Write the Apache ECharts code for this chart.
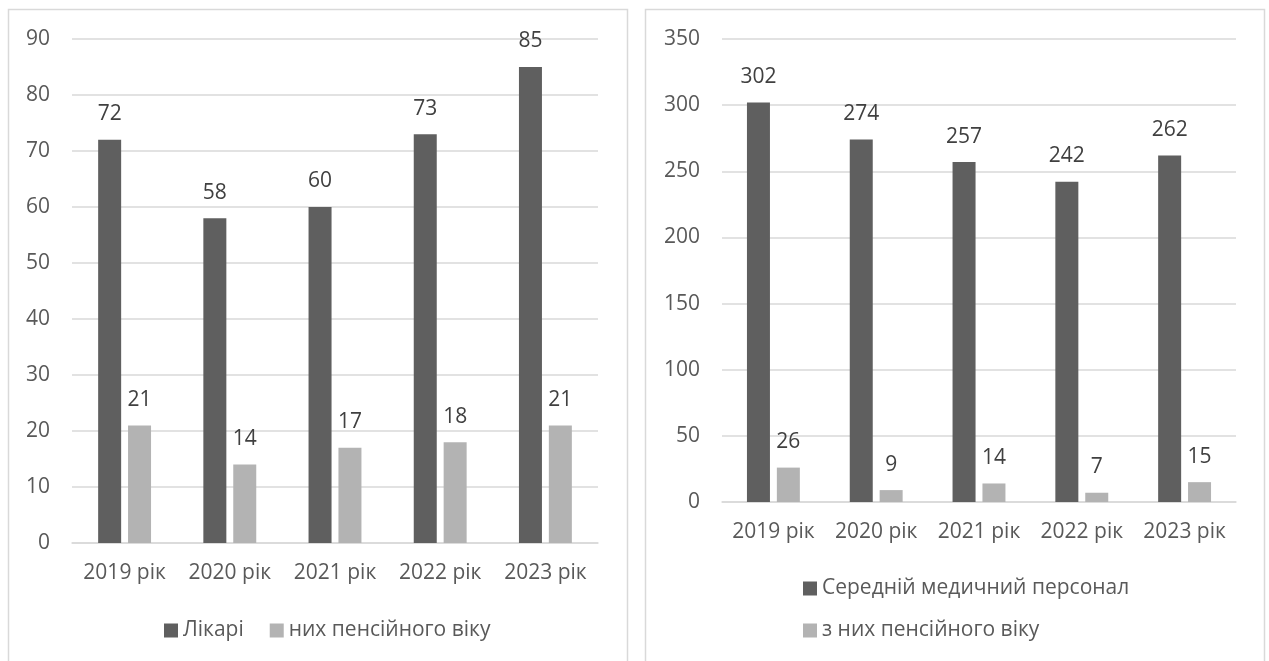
<!DOCTYPE html>
<html>
<head>
<meta charset="utf-8">
<script src="https://cdn.jsdelivr.net/npm/echarts@6/dist/echarts.min.js"></script>
<style>
  html, body { margin: 0; padding: 0; background: #ffffff; }
  #chart { width: 1269px; height: 661px; }
</style>
</head>
<body>
<div id="chart"></div>
<script>
// Categories shared by both panels
const years = ['2019 рік', '2020 рік', '2021 рік', '2022 рік', '2023 рік'];

// Left panel: doctors
const doctorsName = 'Лікарі';
const doctors = [72, 58, 60, 73, 85];
const doctorsRetiredName = 'них пенсійного віку';
const doctorsRetired = [21, 14, 17, 18, 21];

// Right panel: nursing staff
const nursesName = 'Середній медичний персонал';
const nurses = [302, 274, 257, 242, 262];
const nursesRetiredName = 'з них пенсійного віку';
const nursesRetired = [26, 9, 14, 7, 15];

// Axis ranges and steps
const leftAxis = { min: 0, max: 90, interval: 10 };
const rightAxis = { min: 0, max: 350, interval: 50 };

const FONT = '"Open Sans", "Noto Sans", sans-serif';
const FONT_SIZE = 21;
const DARK = '#5f5f5f';
const LIGHT = '#b3b3b3';
const AXIS_TEXT = '#595959';
const LABEL_TEXT = '#404040';
const GRID_LINE = '#d9d9d9';

function xAxisFor(gridIndex) {
  return {
    type: 'category',
    gridIndex: gridIndex,
    data: years,
    axisTick: { show: false },
    axisLine: { lineStyle: { color: GRID_LINE, width: 1.5 } },
    axisLabel: {
      interval: 0,
      hideOverlap: false,
      color: AXIS_TEXT,
      fontFamily: FONT,
      fontSize: FONT_SIZE,
      margin: 20
    }
  };
}

function yAxisFor(gridIndex, range) {
  return {
    type: 'value',
    gridIndex: gridIndex,
    min: range.min,
    max: range.max,
    interval: range.interval,
    axisLine: { show: false },
    axisTick: { show: false },
    splitLine: { lineStyle: { color: GRID_LINE, width: 1.5 } },
    axisLabel: { color: AXIS_TEXT, fontFamily: FONT, fontSize: FONT_SIZE, margin: 22 }
  };
}

function barSeries(name, data, color, axisIndex) {
  return {
    type: 'bar',
    name: name,
    data: data,
    xAxisIndex: axisIndex,
    yAxisIndex: axisIndex,
    barWidth: 23,
    barGap: '30%',
    itemStyle: { color: color },
    label: {
      show: true,
      position: 'top',
      distance: 15,
      color: LABEL_TEXT,
      fontFamily: FONT,
      fontSize: FONT_SIZE
    }
  };
}

const chart = echarts.init(document.getElementById('chart'), null, { renderer: 'canvas' });

chart.setOption({
  animation: false,
  backgroundColor: '#ffffff',
  graphic: [
    {
      type: 'rect', silent: true, z: -1,
      shape: { x: 8.5, y: 9.5, width: 619, height: 700 },
      style: { fill: 'none', stroke: '#d9d9d9', lineWidth: 1.5 }
    },
    {
      type: 'rect', silent: true, z: -1,
      shape: { x: 645.5, y: 9.5, width: 619, height: 700 },
      style: { fill: 'none', stroke: '#d9d9d9', lineWidth: 1.5 }
    }
  ],
  grid: [
    { left: 72, top: 39, width: 526, height: 504 },
    { left: 722, top: 39, width: 514, height: 463 }
  ],
  xAxis: [xAxisFor(0), xAxisFor(1)],
  yAxis: [yAxisFor(0, leftAxis), yAxisFor(1, rightAxis)],
  legend: [
    {
      data: [doctorsName, doctorsRetiredName],
      left: 159,
      top: 615,
      itemWidth: 14,
      itemHeight: 14,
      itemGap: 26,
      icon: 'rect',
      textStyle: { color: AXIS_TEXT, fontFamily: FONT, fontSize: FONT_SIZE }
    },
    {
      data: [nursesName, nursesRetiredName],
      orient: 'vertical',
      left: 798,
      top: 573,
      itemWidth: 14,
      itemHeight: 14,
      itemGap: 21,
      icon: 'rect',
      textStyle: { color: AXIS_TEXT, fontFamily: FONT, fontSize: FONT_SIZE }
    }
  ],
  series: [
    barSeries(doctorsName, doctors, DARK, 0),
    barSeries(doctorsRetiredName, doctorsRetired, LIGHT, 0),
    barSeries(nursesName, nurses, DARK, 1),
    barSeries(nursesRetiredName, nursesRetired, LIGHT, 1)
  ]
});
</script>
</body>
</html>
